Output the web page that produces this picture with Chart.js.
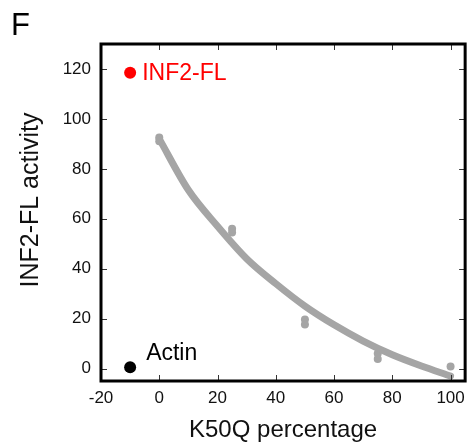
<!DOCTYPE html>
<html>
<head>
<meta charset="utf-8">
<script src="https://cdn.jsdelivr.net/npm/chart.js@4.4.1/dist/chart.umd.min.js"></script>
<style>
  html, body { margin: 0; padding: 0; background: #fff; }
  #wrap { position: relative; width: 472px; height: 443px; }
</style>
</head>
<body>
<div id="wrap"><canvas id="myChart" width="472" height="443"></canvas></div>
<script>
// tick values
const xTicks = [-20, 0, 20, 40, 60, 80, 100];
const yTicks = [0, 20, 40, 60, 80, 100, 120];

// fitted curve
const fitX = [0, 10, 20, 30, 40, 50, 60, 70, 80, 90, 100];
const fitY = [92, 71.5, 57, 44, 34, 25, 17.5, 11, 5.5, 1, -3];

// measured points
const measX = [0, 0, 25, 25, 50, 50, 75, 75, 100];
const measY = [92.5, 91, 56, 54.5, 19.6, 17.6, 6, 3.8, 0.8];

// reference points
const refLabels = ['INF2-FL', 'Actin'];
const refX = [-10, -10];
const refY = [118.5, 0.5];
const refColors = ['#ff0000', '#000000'];

const FONT = '"Liberation Sans", Arial, sans-serif';
const GREY = '#a5a5a5';

const boxPlugin = {
  id: 'boxPlugin',
  afterDraw(chart) {
    const ctx = chart.ctx;
    const a = chart.chartArea;
    const xs = chart.scales.x, ys = chart.scales.y;
    ctx.save();
    // inward ticks
    ctx.strokeStyle = '#333';
    ctx.lineWidth = 1;
    ctx.beginPath();
    xTicks.forEach(v => {
      const px = Math.round(xs.getPixelForValue(v)) + 0.5;
      ctx.moveTo(px, a.bottom); ctx.lineTo(px, a.bottom - 6);
      ctx.moveTo(px, a.top); ctx.lineTo(px, a.top + 6);
    });
    yTicks.forEach(v => {
      const py = Math.round(ys.getPixelForValue(v)) + 0.5;
      ctx.moveTo(a.left, py); ctx.lineTo(a.left + 6, py);
      ctx.moveTo(a.right, py); ctx.lineTo(a.right - 6, py);
    });
    ctx.stroke();
    // frame
    ctx.strokeStyle = '#000';
    ctx.lineWidth = 3;
    ctx.strokeRect(a.left, a.top, a.right - a.left, a.bottom - a.top);

    // point labels
    ctx.font = '23px ' + FONT;
    ctx.textAlign = 'left';
    refLabels.forEach((t, i) => {
      const px = xs.getPixelForValue(refX[i]);
      const py = ys.getPixelForValue(refY[i]);
      ctx.fillStyle = refColors[i];
      if (i === 0) {
        ctx.textBaseline = 'middle';
        ctx.fillText(t, px + 12, py + 1);
      } else {
        ctx.textBaseline = 'alphabetic';
        ctx.fillText(t, px + 16, py - 7);
      }
    });

    // axis titles
    ctx.fillStyle = '#111';
    ctx.font = '24px ' + FONT;
    ctx.textAlign = 'center';
    ctx.textBaseline = 'alphabetic';
    ctx.fillText('K50Q percentage', (a.left + a.right) / 2, 437);
    ctx.save();
    ctx.translate(38, 200);
    ctx.rotate(-Math.PI / 2);
    ctx.font = '25px ' + FONT;
    ctx.fillText('INF2-FL activity', 0, 0);
    ctx.restore();

    // panel letter
    ctx.font = '31px ' + FONT;
    ctx.textAlign = 'left';
    ctx.fillStyle = '#000';
    ctx.fillText('F', 11, 35);
    ctx.restore();
  }
};

const ctx = document.getElementById('myChart').getContext('2d');
new Chart(ctx, {
  type: 'scatter',
  data: {
    datasets: [
      {
        type: 'line',
        label: 'fit',
        data: fitX.map((x, i) => ({ x: x, y: fitY[i] })),
        borderColor: GREY,
        borderWidth: 7,
        borderCapStyle: 'round',
        cubicInterpolationMode: 'monotone',
        pointRadius: 0,
        fill: false
      },
      {
        label: 'measured',
        data: measX.map((x, i) => ({ x: x, y: measY[i] })),
        backgroundColor: GREY,
        borderWidth: 0,
        pointRadius: 4
      },
      {
        label: 'reference',
        data: refX.map((x, i) => ({ x: x, y: refY[i] })),
        backgroundColor: refColors,
        borderWidth: 0,
        pointRadius: 6
      }
    ]
  },
  options: {
    responsive: false,
    animation: false,
    devicePixelRatio: 1,
    layout: { padding: { top: 44, right: 3, left: 0, bottom: 0 } },
    plugins: { legend: { display: false }, tooltip: { enabled: false } },
    scales: {
      x: {
        type: 'linear',
        min: -20,
        max: 105,
        grid: { display: false, drawTicks: false },
        border: { display: false },
        afterBuildTicks: s => { s.ticks = xTicks.map(v => ({ value: v })); },
        afterFit: s => { s.height = 62; },
        ticks: { color: '#111', padding: 7, maxRotation: 0, font: { size: 17, family: FONT } }
      },
      y: {
        type: 'linear',
        min: -5,
        max: 130,
        grid: { display: false, drawTicks: false },
        border: { display: false },
        afterBuildTicks: s => { s.ticks = yTicks.map(v => ({ value: v })); },
        afterFit: s => { s.width = 101; },
        ticks: { color: '#111', padding: 10, font: { size: 17, family: FONT } }
      }
    }
  },
  plugins: [boxPlugin]
});
</script>
</body>
</html>
